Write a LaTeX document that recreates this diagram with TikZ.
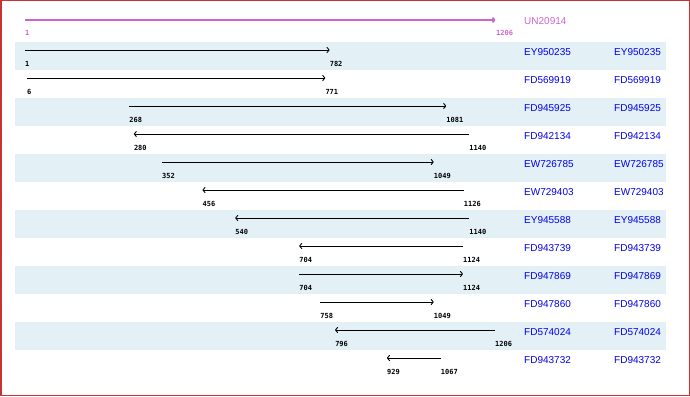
\documentclass[tikz,border=0pt]{standalone}
\usepackage{fontspec}
\setmainfont{Liberation Sans}
\newfontfamily\monof{DejaVu Sans Mono}
\usetikzlibrary{arrows.meta}
\definecolor{bandcol}{RGB}{227,240,245}
\definecolor{framecol}{RGB}{200,50,50}
\definecolor{magcol}{RGB}{204,102,204}
\definecolor{namecol}{RGB}{0,0,238}
\tikzset{
  band/.style={fill=bandcol, draw=none},
  seqarrow/.style={draw=black, line width=0.9pt, -{To[length=3pt,width=6pt]}},
  refarrow/.style={draw=magcol, line width=2pt, -{To[length=3pt,width=6pt]}},
  poslabel/.style={anchor=west, inner sep=0pt, font=\monof\bfseries\fontsize{7}{8}\selectfont},
  namelabel/.style={anchor=west, inner sep=0pt, text=namecol, font=\fontsize{10}{12}\selectfont},
}
\begin{document}
\begin{tikzpicture}[x=1pt,y=-1pt]
\useasboundingbox (0,0) rectangle (690,396);
\fill[white] (0,0) rectangle (690,396);
\draw[framecol, line width=1.5pt] (0.75,0.75) rectangle (689.25,395.25);
\foreach \i in {0,2,4,6,8,10}{
  \fill[band] (15,42+28*\i) rectangle (666,70+28*\i);
}
% reference sequence
\coordinate (rs) at (25,20);
\coordinate (re) at (495,20);
\draw[refarrow] (rs) -- (re);
\node[poslabel, text=magcol] (rls) at (25,33) {1};
\node[poslabel, text=magcol] (rle) at (496,33) {1206};
\node[namelabel, text=magcol] (refname) at (524,21) {UN20914};
% hits
\foreach \i/\t/\h/\n in {0/1/782/EY950235, 1/6/771/FD569919, 2/268/1081/FD945925,
  3/1140/280/FD942134, 4/352/1049/EW726785, 5/1126/456/EW729403,
  6/1140/540/EY945588, 7/1124/704/FD943739, 8/704/1124/FD947869,
  9/758/1049/FD947860, 10/1206/796/FD574024, 11/1067/929/FD943732}{
  \pgfmathsetmacro\yy{50+28*\i}
  \pgfmathsetmacro\xt{25+(\t-1)*0.39}
  \pgfmathsetmacro\xh{25+(\h-1)*0.39}
  \coordinate (t\i) at (\xt,\yy);
  \coordinate (h\i) at (\xh,\yy);
  \draw[seqarrow] (t\i) -- (h\i);
  \node[poslabel] (lt\i) at (\xt,\yy+14) {\t};
  \node[poslabel] (lh\i) at (\xh,\yy+14) {\h};
  \node[namelabel] (na\i) at (524,\yy+2) {\n};
  \node[namelabel] (nb\i) at (614,\yy+2) {\n};
}
\end{tikzpicture}
\end{document}
